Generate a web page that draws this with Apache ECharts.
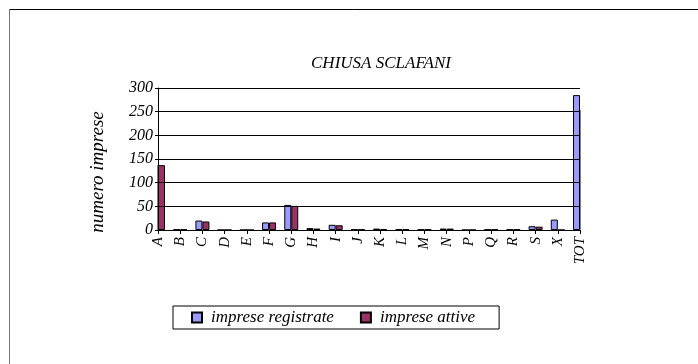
<!DOCTYPE html>
<html>
<head>
<meta charset="utf-8">
<script src="https://cdn.jsdelivr.net/npm/echarts@6/dist/echarts.min.js"></script>
<style>
html,body{margin:0;padding:0;background:#fff;}
#chart{width:698px;height:364px;}
</style>
</head>
<body>
<div id="chart"></div>
<script>
const categories = ['A','B','C','D','E','F','G','H','I','J','K','L','M','N','P','Q','R','S','X','TOT'];
const registrate = [138,1,20,0,0,16,53,4,11,1,3,2,1,3,0,1,1,8,22,285];
const attive = [137,1,18,0,0,16,51,3,10,1,2,2,1,3,0,1,1,7,0,254];
const yTicks = [0,50,100,150,200,250,300];
const seriesNames = ['imprese registrate','imprese attive'];
const titleText = 'CHIUSA SCLAFANI';
const yName = 'numero imprese';

const serif = '"Liberation Serif","Times New Roman",serif';
const chart = echarts.init(document.getElementById('chart'));
chart.setOption({
  animation:false,
  backgroundColor:'#fff',
  title:{text:titleText,left:376,top:50,textAlign:'center',
    textStyle:{fontFamily:serif,fontStyle:'italic',fontWeight:'normal',fontSize:17,color:'#000'}},
  grid:{left:158,top:88,right:118,bottom:134,containLabel:false},
  legend:{
    left:173,top:306,orient:'horizontal',
    data:seriesNames,
    itemWidth:10,itemHeight:10,itemGap:26,
    padding:[3,24,3,18],
    borderColor:'#000',borderWidth:1,
    icon:'rect',
    textStyle:{fontFamily:serif,fontStyle:'italic',fontSize:17,color:'#000',padding:[0,0,0,4]}
  },
  xAxis:{
    type:'category',data:categories,boundaryGap:false,z:10,
    axisLine:{lineStyle:{color:'#000',width:1}},
    axisTick:{show:true,length:4,lineStyle:{color:'#000'}},
    axisLabel:{rotate:90,interval:0,margin:7,fontFamily:serif,fontStyle:'italic',fontSize:15,color:'#000'},
    splitLine:{show:false}
  },
  yAxis:{
    type:'value',min:yTicks[0],max:yTicks[yTicks.length-1],interval:50,z:10,
    axisLine:{show:true,lineStyle:{color:'#000',width:1}},
    axisTick:{show:true,length:3,lineStyle:{color:'#000'}},
    axisLabel:{margin:5,fontFamily:serif,fontStyle:'italic',fontSize:16,color:'#000'},
    splitLine:{show:true,lineStyle:{color:'#000',width:1}}
  },
  series:[
    {name:seriesNames[0],type:'bar',data:registrate,barWidth:7,barGap:'0%',clip:true,
      itemStyle:{color:'#9999FF',borderColor:'#000',borderWidth:1}},
    {name:seriesNames[1],type:'bar',data:attive,barWidth:7,barGap:'0%',clip:true,
      itemStyle:{color:'#993366',borderColor:'#000',borderWidth:1}}
  ],
  graphic:[
    {type:'rect',z:5,shape:{x:140,y:80,width:17.5,height:151},style:{fill:'#fff'}},
    {type:'rect',z:5,shape:{x:580.5,y:80,width:20,height:151},style:{fill:'#fff'}},
    {type:'text',z:20,x:98,y:172,rotation:Math.PI/2,
      style:{text:yName,font:'italic 19px '+serif,fill:'#000',align:'center',verticalAlign:'middle'}},
    {type:'line',z:20,shape:{x1:9.5,y1:9.5,x2:698,y2:9.5},style:{stroke:'#000',lineWidth:1}},
    {type:'line',z:20,shape:{x1:9.5,y1:9.5,x2:9.5,y2:364},style:{stroke:'#777',lineWidth:1}}
  ]
});
</script>
</body>
</html>
